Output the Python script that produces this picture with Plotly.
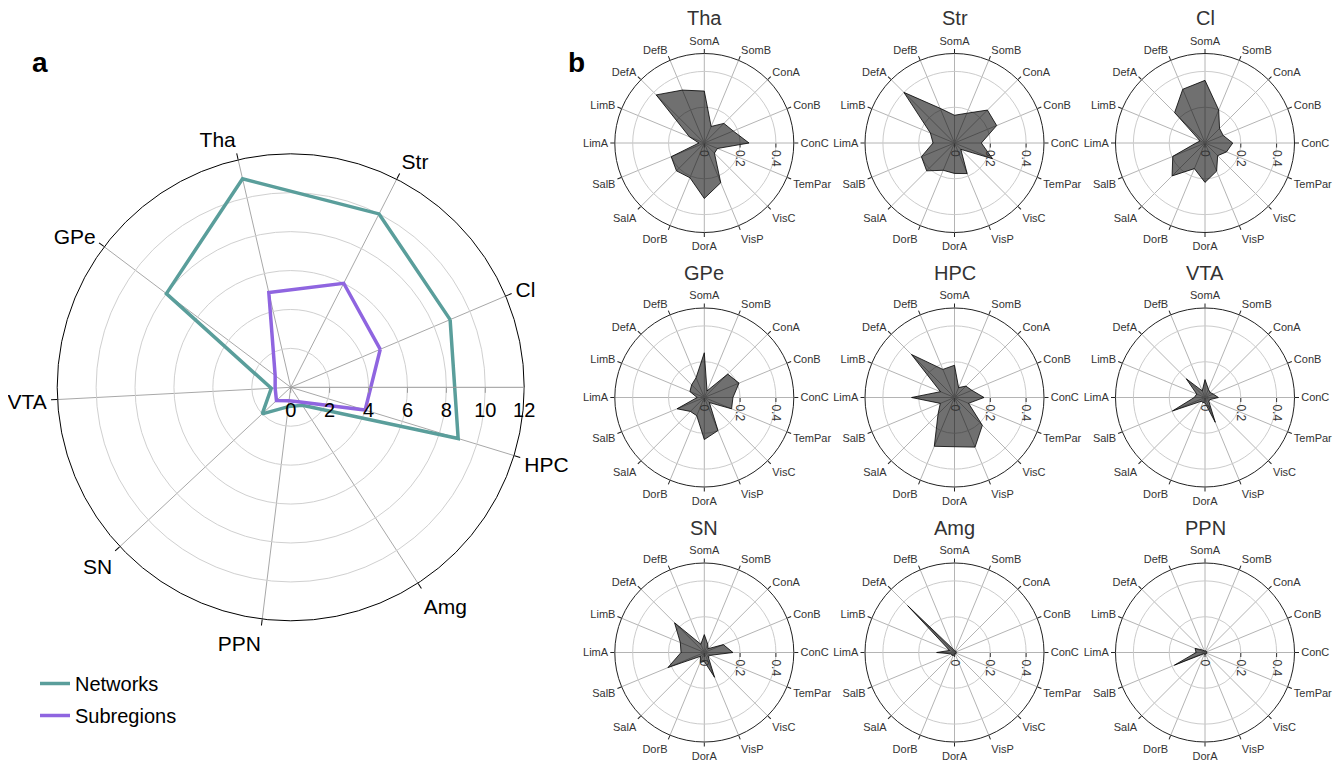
import plotly.graph_objects as go

# ---------------- data ----------------
regions = ["Cl", "Str", "Tha", "GPe", "VTA", "SN", "PPN", "Amg", "HPC"]
networks_vals = [8.9, 10.0, 11.0, 8.0, 1.0, 2.0, 1.0, 1.1, 9.0]
subregions_vals = [5.0, 6.0, 5.0, 1.0, 0.8, 1.0, 0.7, 0.9, 4.0]
radial_ticks_a = [0, 2, 4, 6, 8, 10, 12]

net_cats = ["SomA", "SomB", "ConA", "ConB", "ConC", "TemPar", "VisC", "VisP",
            "DorA", "DorB", "SalA", "SalB", "LimA", "LimB", "DefA", "DefB"]
radial_ticks_b = [0, 0.2, 0.4]

panel_titles = ["Tha", "Str", "Cl", "GPe", "HPC", "VTA", "SN", "Amg", "PPN"]
tha = [0.29, 0.10, 0.155, 0.175, 0.25, 0.08, 0.08, 0.24, 0.31, 0.21, 0.22, 0.20, 0.03, 0.09, 0.38, 0.32]
stri = [0.155, 0.18, 0.26, 0.255, 0.15, 0.23, 0.05, 0.185, 0.17, 0.165, 0.22, 0.20, 0.12, 0.146, 0.40, 0.21]
cl = [0.35, 0.20, 0.115, 0.11, 0.155, 0.13, 0.10, 0.17, 0.22, 0.155, 0.26, 0.195, 0.05, 0.03, 0.24, 0.325]
gpe = [0.25, 0.04, 0.185, 0.21, 0.16, 0.165, 0.04, 0.20, 0.235, 0.11, 0.11, 0.165, 0.04, 0.087, 0.10, 0.12]
hpc = [0.18, 0.06, 0.09, 0.105, 0.165, 0.085, 0.22, 0.30, 0.275, 0.295, 0.13, 0.086, 0.24, 0.085, 0.34, 0.17]
vta = [0.10, 0.05, 0.04, 0.05, 0.075, 0.03, 0.03, 0.15, 0.03, 0.03, 0.03, 0.197, 0.06, 0.05, 0.148, 0.04]
sn = [0.10, 0.05, 0.03, 0.115, 0.16, 0.04, 0.03, 0.15, 0.05, 0.06, 0.03, 0.22, 0.13, 0.145, 0.235, 0.05]
amg = [0.01, 0.01, 0.01, 0.01, 0.01, 0.01, 0.01, 0.01, 0.01, 0.02, 0.02, 0.02, 0.10, 0.03, 0.37, 0.02]
ppn = [0.01, 0.01, 0.01, 0.01, 0.01, 0.01, 0.01, 0.01, 0.01, 0.01, 0.01, 0.185, 0.05, 0.06, 0.02, 0.01]
panel_values = [tha, stri, cl, gpe, hpc, vta, sn, amg, ppn]

# ---------------- figure ----------------
OFF = 8                      # page body margin of the html page
FW, FH = 1344 - OFF, 761 - OFF
FONT = "Liberation Sans, Arial, sans-serif"
TEAL = "#5a9e9b"
PURPLE = "#8f65e0"


def px(x):
    return (x - OFF) / FW


def py(y):
    return 1 - (y - OFF) / FH


def dom(cx, cy, r):
    return dict(x=[px(cx - r), px(cx + r)], y=[py(cy + r), py(cy - r)])


fig = go.Figure()

# panel a
fig.add_trace(go.Scatterpolar(r=networks_vals + networks_vals[:1], theta=regions + regions[:1],
                              mode="lines", line=dict(color=TEAL, width=3.5), name="Networks",
                              subplot="polar", legendgroup="n"))
fig.add_trace(go.Scatterpolar(r=subregions_vals + subregions_vals[:1], theta=regions + regions[:1],
                              mode="lines", line=dict(color=PURPLE, width=3.5), name="Subregions",
                              subplot="polar", legendgroup="s"))

layout_polars = {}
layout_polars["polar"] = dict(
    domain=dom(290.7, 387.3, 233.5),
    bgcolor="white",
    angularaxis=dict(type="category", categoryarray=regions, direction="counterclockwise",
                     rotation=23, showline=True, linecolor="black", linewidth=1,
                     ticks="outside", ticklen=6, tickcolor="black",
                     gridcolor="#a8a8a8", gridwidth=1,
                     tickfont=dict(size=21, color="black", family=FONT)),
    radialaxis=dict(range=[0, 12], tickvals=radial_ticks_a, angle=0, side="clockwise",
                    showline=True, linecolor="#999999", linewidth=1,
                    ticks="outside", ticklen=5, tickcolor="#999999",
                    gridcolor="#d0d0d0", gridwidth=1,
                    tickfont=dict(size=20, color="black", family=FONT)),
)

# panel b
cxs = [704.3, 954.5, 1205.0]
cys = [143.0, 397.5, 652.5]
R = 89.5
annotations = []
for i, (title, vals) in enumerate(zip(panel_titles, panel_values)):
    row, col = divmod(i, 3)
    cx, cy = cxs[col], cys[row]
    name = "polar%d" % (i + 2)
    fig.add_trace(go.Scatterpolar(r=vals + vals[:1], theta=net_cats + net_cats[:1],
                                  mode="lines", fill="toself", fillcolor="rgba(0,0,0,0.56)",
                                  line=dict(color="black", width=0.8), showlegend=False,
                                  subplot=name))
    layout_polars[name] = dict(
        domain=dom(cx, cy, R),
        bgcolor="white",
        angularaxis=dict(type="category", categoryarray=net_cats, direction="clockwise",
                         rotation=90, showline=True, linecolor="#222222", linewidth=1,
                         ticks="outside", ticklen=4, tickcolor="#222222",
                         gridcolor="#b4b4b4", gridwidth=1,
                         tickfont=dict(size=11, color="#333333", family=FONT)),
        radialaxis=dict(range=[0, 0.5], tickvals=radial_ticks_b, angle=0, side="clockwise",
                        tickangle=90, showline=False,
                        ticks="outside", ticklen=4, tickcolor="#333333",
                        gridcolor="#cccccc", gridwidth=1,
                        tickfont=dict(size=12, color="#333333", family=FONT)),
    )
    annotations.append(dict(text=title, x=px(cx), y=py(cy - 125), xref="paper", yref="paper",
                            showarrow=False, xanchor="center", yanchor="middle",
                            font=dict(size=20, color="#333333", family=FONT)))

annotations.append(dict(text="<b>a</b>", x=px(40), y=py(62), xref="paper", yref="paper",
                        showarrow=False, xanchor="center", yanchor="middle",
                        font=dict(size=28, color="black", family=FONT)))
annotations.append(dict(text="<b>b</b>", x=px(576), y=py(62), xref="paper", yref="paper",
                        showarrow=False, xanchor="center", yanchor="middle",
                        font=dict(size=28, color="black", family=FONT)))

fig.update_layout(
    width=FW, height=FH,
    margin=dict(l=0, r=0, t=0, b=0),
    paper_bgcolor="white",
    font=dict(family=FONT),
    annotations=annotations,
    showlegend=True,
    legend=dict(x=px(35), y=py(664), xanchor="left", yanchor="top",
                font=dict(size=20, color="black", family=FONT), bgcolor="rgba(0,0,0,0)",
                tracegroupgap=3),
    **layout_polars,
)

fig.write_html("out.html")
